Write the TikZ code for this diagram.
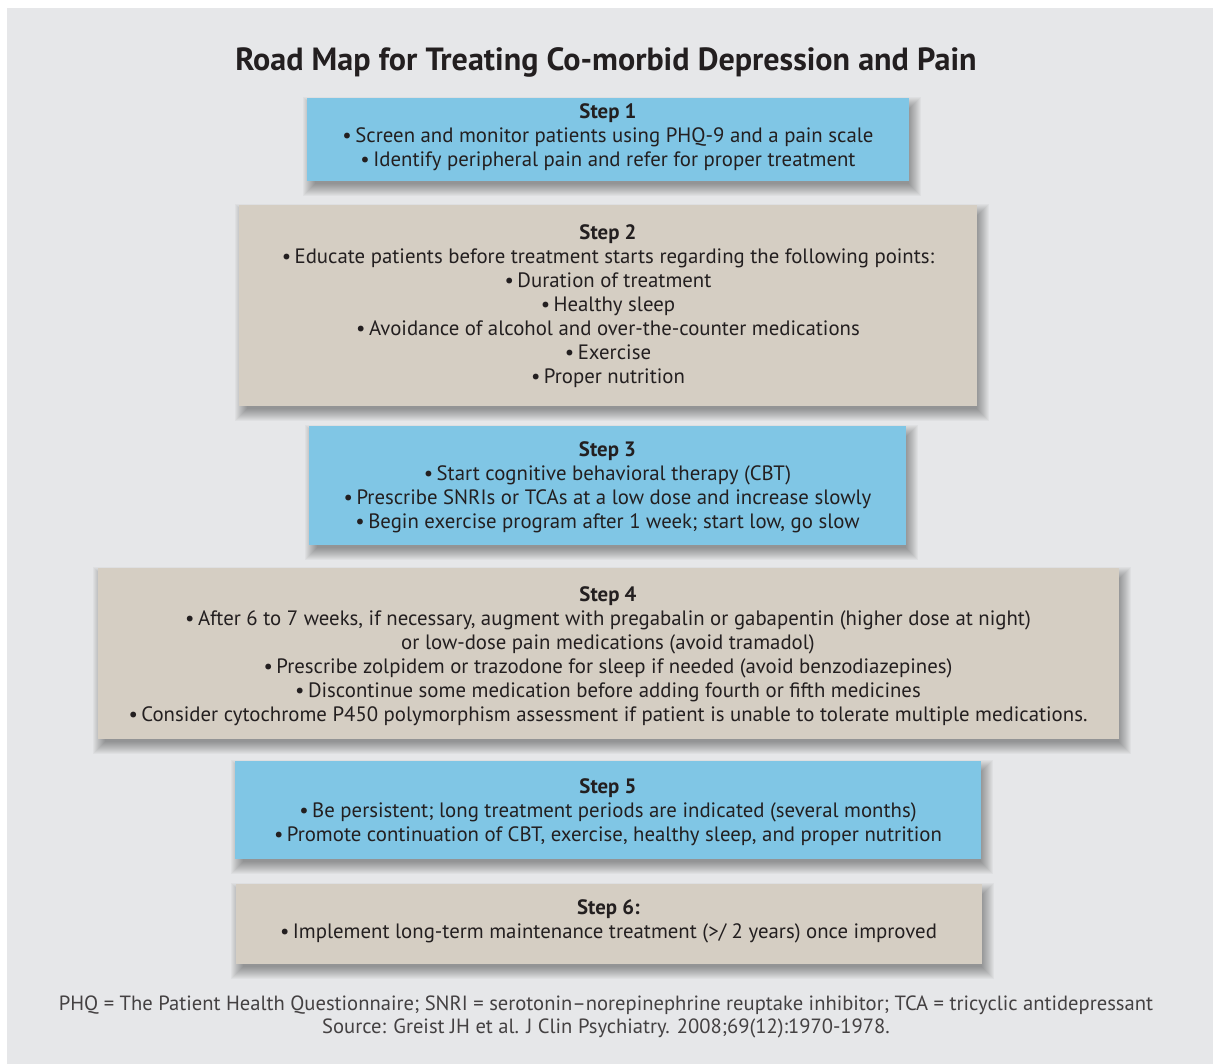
\documentclass[tikz,border=0pt]{standalone}
\usepackage{fontspec}
\setmainfont{PT Sans}
\definecolor{bg}{HTML}{E6E7E9}
\definecolor{stepblue}{HTML}{80C6E5}
\definecolor{stepbeige}{HTML}{D5CEC3}
\definecolor{ink}{HTML}{231F20}
\pgfdeclarelayer{shadowlayer}
\pgfdeclarelayer{canvaslayer}
\pgfsetlayers{canvaslayer,shadowlayer,main}
\newcommand\softshadow[1]{%
  \begin{pgfonlayer}{shadowlayer}
    \foreach \r in {-4,-3,...,8}{
      \fill[black,opacity=0.03]
        ([shift={(4-\r,7-\r)}]#1.north west) rectangle ([shift={(4+\r,7+\r)}]#1.south east);
    }
  \end{pgfonlayer}}
\begin{document}
\begin{tikzpicture}[x=1pt,y=-1pt,
  box/.style={rectangle, inner sep=0pt, draw=none},
  bluebox/.style={box, fill=stepblue},
  beigebox/.style={box, fill=stepbeige},
  txt/.style={align=center, text=ink, font=\fontsize{20.8}{24}\selectfont, inner sep=0pt},
  note/.style={align=center, text=ink!85, font=\fontsize{20.6}{23}\selectfont, inner sep=0pt}]
\begin{pgfonlayer}{canvaslayer}
\fill[white] (0,0) rectangle (1213,1064);
\fill[bg] (7,8) rectangle (1213,1064);
\end{pgfonlayer}
\useasboundingbox (0,0) rectangle (1213,1064);

\node[text=ink, font=\bfseries\fontsize{32.1}{36}\selectfont, inner sep=0pt] (title) at (606,62.5)
  {Road Map for Treating Co-morbid Depression and Pain};

\node[bluebox, minimum width=602pt, minimum height=83pt] (step1) at (608,139.5) {};
\softshadow{step1}
\node[txt] (step1text) at (608,137.5) {\textbf{Step 1}\\
  •\,Screen and monitor patients using PHQ-9 and a pain scale\\
  •\,Identify peripheral pain and refer for proper treatment};

\node[beigebox, minimum width=738pt, minimum height=201pt] (step2) at (608,305.5) {};
\softshadow{step2}
\node[txt] (step2text) at (608,306.5) {\textbf{Step 2}\\
  •\,Educate patients before treatment starts regarding the following points:\\
  •\,Duration of treatment\\
  •\,Healthy sleep\\
  •\,Avoidance of alcohol and over-the-counter medications\\
  •\,Exercise\\
  •\,Proper nutrition};

\node[bluebox, minimum width=597pt, minimum height=119pt] (step3) at (607.5,485.5) {};
\softshadow{step3}
\node[txt] (step3text) at (607.5,487.5) {\textbf{Step 3}\\
  •\,Start cognitive behavioral therapy (CBT)\\
  •\,Prescribe SNRIs or TCAs at a low dose and increase slowly\\
  •\,Begin exercise program after 1 week; start low, go slow};

\node[beigebox, minimum width=1021pt, minimum height=171pt] (step4) at (608,653.5) {};
\softshadow{step4}
\node[txt] (step4text) at (608,656) {\textbf{Step 4}\\
  •\,After 6 to 7 weeks, if necessary, augment with pregabalin or gabapentin (higher dose at night)\\
  or low-dose pain medications (avoid tramadol)\\
  •\,Prescribe zolpidem or trazodone for sleep if needed (avoid benzodiazepines)\\
  •\,Discontinue some medication before adding fourth or fifth medicines\\
  •\,Consider cytochrome P450 polymorphism assessment if patient is unable to tolerate multiple medications.};

\node[bluebox, minimum width=746pt, minimum height=98pt] (step5) at (608,810) {};
\softshadow{step5}
\node[txt] (step5text) at (608,812.5) {\textbf{Step 5}\\
  •\,Be persistent; long treatment periods are indicated (several months)\\
  •\,Promote continuation of CBT, exercise, healthy sleep, and proper nutrition};

\node[beigebox, minimum width=746pt, minimum height=80pt] (step6) at (608.5,924) {};
\softshadow{step6}
\node[txt] (step6text) at (608.5,921.5) {\textbf{Step 6:}\\
  •\,Implement long-term maintenance treatment (>/ 2 years) once improved};

\node[note] (footnote) at (606,1017) {PHQ = The Patient Health Questionnaire; SNRI = serotonin–norepinephrine reuptake inhibitor; TCA = tricyclic antidepressant\\
  Source: Greist JH et al. J Clin Psychiatry. 2008;69(12):1970-1978.};
\end{tikzpicture}
\end{document}
